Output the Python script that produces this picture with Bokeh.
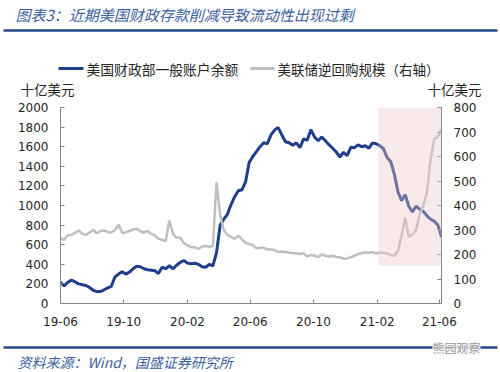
import pandas as pd
from bokeh.plotting import figure
from bokeh.layouts import column
from bokeh.models import LinearAxis, Range1d, FixedTicker, BoxAnnotation
from bokeh.core.properties import value
from bokeh.embed import file_html
from bokeh.resources import INLINE

# ---------------- data ----------------
start_date = "2019-06-01"
n_weeks = 106
dates = pd.date_range(start_date, periods=n_weeks, freq="7D")

# US Treasury general account balance (left axis, bn USD)
tga = [217, 180, 215, 240, 220, 200, 192, 184, 165, 135,
       122, 122, 140, 160, 175, 270, 300, 325, 300, 320,
       354, 380, 375, 354, 345, 340, 335, 305, 370, 355,
       385, 355, 390, 420, 439, 412, 405, 410, 400, 375,
       370, 400, 385, 520, 800, 860, 910, 1010, 1090, 1150,
       1160, 1240, 1440, 1500, 1550, 1600, 1640, 1630, 1720, 1770,
       1795, 1720, 1650, 1640, 1615, 1640, 1590, 1680, 1665, 1775,
       1700, 1660, 1700, 1660, 1620, 1585, 1545, 1495, 1543, 1510,
       1594, 1590, 1619, 1600, 1610, 1585, 1639, 1630, 1610, 1580,
       1490, 1450, 1320, 1140, 1050, 1110, 990, 935, 995, 960,
       940, 895, 860, 840, 800, 680]

# Fed reverse repo (right axis, bn USD)
rrp = [268, 260, 278, 280, 288, 298, 285, 280, 290, 300,
       286, 296, 298, 292, 290, 300, 322, 288, 290, 296,
       302, 305, 295, 290, 296, 284, 278, 264, 260, 255,
       339, 284, 268, 268, 246, 237, 230, 230, 223, 232,
       235, 232, 235, 495, 360, 300, 280, 272, 264, 277,
       262, 248, 243, 238, 225, 228, 228, 220, 220, 218,
       210, 212, 210, 208, 205, 205, 202, 205, 192, 198,
       195, 189, 200, 195, 192, 195, 190, 189, 183, 184,
       189, 195, 202, 205, 209, 207, 209, 204, 208, 206,
       205, 197, 195, 215, 280, 350, 272, 282, 300, 365,
       400, 455, 590, 672, 680, 713]

tick_dates = ["2019-06-01", "2019-10-01", "2020-02-01", "2020-06-01",
              "2020-10-01", "2021-02-01", "2021-06-01"]
tick_labels = ["19-06", "19-10", "20-02", "20-06", "20-10", "21-02", "21-06"]
left_ticks = list(range(0, 2001, 200))
right_ticks = list(range(0, 801, 100))

shade_start = "2021-02-03"
shade_bottom = 388
shade_top = 2000

title_text = "图表3：近期美国财政存款削减导致流动性出现过剩"
legend_tga = "美国财政部一般账户余额"
legend_rrp = "美联储逆回购规模（右轴）"
unit_text = "十亿美元"
source_text = "资料来源：Wind，国盛证券研究所"
watermark_text = "熊园观察"

# ---------------- styles ----------------
CJK = "Noto Sans CJK SC"
BLUE = "#1f3e8c"
GRAY = "#bfbfbf"
AXIS = "#868686"
TXT = "#262626"
TITLE_BLUE = "#3d5f9f"
RULE_BLUE = "#254a8a"
W = 500
HEAD_H = 98
MAIN_H = 242
FOOT_H = 32


def ms(d):
    return float(pd.Timestamp(d).value // 10**6)


def panel(top, bottom):
    """Plain drawing area in page pixel coordinates (y downward)."""
    f = figure(width=W, height=bottom - top, output_backend="svg",
               toolbar_location=None, x_range=Range1d(0, W),
               y_range=Range1d(bottom, top),
               x_axis_location=None, y_axis_location=None,
               min_border=0, min_border_left=0, min_border_right=0,
               min_border_top=0, min_border_bottom=0)
    f.frame_align = False
    f.grid.visible = False
    f.outline_line_color = None
    f.background_fill_color = "white"
    f.border_fill_color = "white"
    return f


def txt(f, x, y, t, size="13.5px", color=TXT, style="normal", **kw):
    f.text(x=[x], y=[y], text=[t], text_font=value(CJK), text_font_size=size,
           text_color=color, text_font_style=style, text_baseline="middle",
           text_align="left", **kw)


# ---------------- header ----------------
head = panel(0, HEAD_H)
txt(head, 15, 14, title_text, size="15px", color=TITLE_BLUE, style="italic")
head.segment(x0=[3], y0=[30], x1=[497], y1=[30], line_color=RULE_BLUE, line_width=2.5)
head.segment(x0=[58], y0=[68], x1=[83], y1=[68], line_color=BLUE, line_width=3)
txt(head, 86, 68, legend_tga, size="13.8px")
head.segment(x0=[250], y0=[68], x1=[274], y1=[68], line_color=GRAY, line_width=3)
txt(head, 277, 68, legend_rrp)
txt(head, 20, 88, unit_text)
txt(head, 427, 88, unit_text)

# ---------------- main chart ----------------
p = figure(width=W, height=MAIN_H, x_axis_type="datetime",
           output_backend="svg", toolbar_location=None,
           x_range=Range1d(ms(dates[0]), ms(dates[-1])),
           y_range=Range1d(0, 2000),
           min_border_left=60, min_border_right=59,
           min_border_top=107 - HEAD_H, min_border_bottom=HEAD_H + MAIN_H - 303)
p.frame_align = False
p.extra_y_ranges = {"rrp": Range1d(0, 800)}
p.xgrid.visible = False
p.ygrid.visible = False
p.outline_line_color = None
p.background_fill_color = "white"
p.border_fill_color = "white"

raxis = LinearAxis(y_range_name="rrp")
p.add_layout(raxis, "right")

tick_ms = [ms(d) for d in tick_dates]
p.xaxis.ticker = FixedTicker(ticks=tick_ms)
p.xaxis.major_label_overrides = {t: l for t, l in zip(tick_ms, tick_labels)}
p.yaxis[0].ticker = FixedTicker(ticks=left_ticks)
raxis.ticker = FixedTicker(ticks=right_ticks)

for ax in [p.xaxis[0], p.yaxis[0], raxis]:
    ax.axis_line_color = AXIS
    ax.axis_line_width = 1
    ax.major_tick_line_color = AXIS
    ax.major_tick_in = 4
    ax.major_tick_out = 0
    ax.minor_tick_line_color = None
    ax.major_label_text_font = "DejaVu Sans"
    ax.major_label_text_font_size = "12px"
    ax.major_label_text_color = TXT
    ax.major_label_standoff = 12
p.xaxis.major_label_standoff = 13

p.line(dates, tga, line_color=BLUE, line_width=3)
p.line(dates, rrp, line_color=GRAY, line_width=2.5, y_range_name="rrp")

p.add_layout(BoxAnnotation(left=ms(shade_start), right=ms(dates[-1]),
                           bottom=shade_bottom, top=shade_top,
                           fill_color="#ecc8c8", fill_alpha=0.38,
                           line_color=None))

# ---------------- footer ----------------
foot = panel(HEAD_H + MAIN_H, HEAD_H + MAIN_H + FOOT_H)
foot.segment(x0=[3], y0=[347], x1=[497], y1=[347], line_color=RULE_BLUE, line_width=2.5)
txt(foot, 17, 361, source_text, size="14px", color=TITLE_BLUE, style="italic")
txt(foot, 432, 347, watermark_text, size="12px", color="#9a9a9a",
    background_fill_color="white", background_fill_alpha=0.85)

layout = column(head, p, foot, spacing=0)
open("out.html", "w").write(file_html(layout, INLINE))
